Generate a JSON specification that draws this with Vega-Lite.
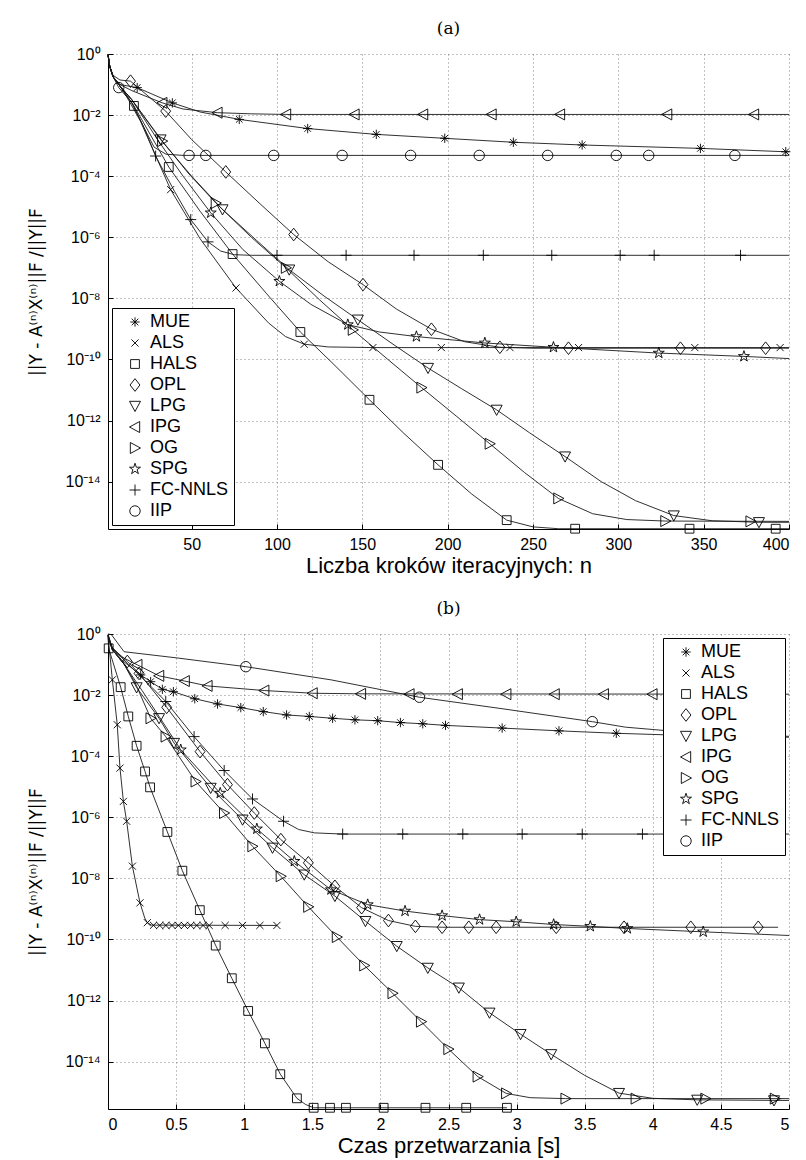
{
"$schema":"https://vega.github.io/schema/vega-lite/v6.json",
"padding":{"left":27,"top":20,"right":8,"bottom":2},
"config":{
 "font":"Liberation Sans",
 "view":{"stroke":null},
 "axis":{"domainColor":"#000","domainWidth":1,"tickColor":"#000","tickSize":-5,"tickWidth":1,"gridColor":"#666","gridDash":[1,3],"gridWidth":0.8,"gridOpacity":1,"labelFont":"Liberation Sans","labelFontSize":16,"labelColor":"#000","titleFont":"Liberation Sans","titleFontSize":18,"titleFontWeight":"normal","titleColor":"#000"},
 "axisX":{"labelPadding":12,"titlePadding":3,"titleFontSize":22},
 "axisY":{"labelPadding":13,"titlePadding":20,"titleFont":"DejaVu Sans","titleFontSize":17},
 "legend":{"labelFont":"Liberation Sans","labelFontSize":18,"labelColor":"#000","strokeColor":"#000","strokeWidth":1,"fillColor":"#fff","padding":5,"rowPadding":3,"symbolOffset":9,"labelOffset":6,"symbolSize":121,"symbolStrokeWidth":0.9,"symbolStrokeColor":"#000","symbolFillColor":"transparent","offset":4},
 "title":{"font":"DejaVu Serif","fontSize":17,"fontWeight":"normal","color":"#000","baseline":"bottom","offset":8}
},
"datasets":{
"la":[
{"s":"MUE","x":1,"y":0.955},{"s":"MUE","x":2,"y":0.398},{"s":"MUE","x":4,"y":0.178},{"s":"MUE","x":8,"y":0.1},{"s":"MUE","x":18.1,"y":0.0794},{"s":"MUE","x":38.7,"y":0.0251},{"s":"MUE","x":55,"y":0.0126},{"s":"MUE","x":77.9,"y":0.00724},{"s":"MUE","x":118,"y":0.00363},{"s":"MUE","x":158,"y":0.00234},{"s":"MUE","x":198,"y":0.00174},{"s":"MUE","x":238.5,"y":0.00129},{"s":"MUE","x":279,"y":0.00105},{"s":"MUE","x":348,"y":0.000813},{"s":"MUE","x":398,"y":0.000631},{"s":"MUE","x":400,"y":0.000631},
{"s":"IPG","x":1,"y":0.955},{"s":"IPG","x":2,"y":0.398},{"s":"IPG","x":4,"y":0.178},{"s":"IPG","x":8,"y":0.1},{"s":"IPG","x":15,"y":0.0631},{"s":"IPG","x":32.8,"y":0.0251},{"s":"IPG","x":45,"y":0.0158},{"s":"IPG","x":65,"y":0.012},{"s":"IPG","x":85,"y":0.011},{"s":"IPG","x":105,"y":0.0105},{"s":"IPG","x":400,"y":0.0105},
{"s":"IIP","x":1,"y":0.955},{"s":"IIP","x":2,"y":0.398},{"s":"IIP","x":4,"y":0.178},{"s":"IIP","x":7.3,"y":0.0794},{"s":"IIP","x":15,"y":0.0251},{"s":"IIP","x":22,"y":0.00398},{"s":"IIP","x":28,"y":0.000891},{"s":"IIP","x":35,"y":0.000525},{"s":"IIP","x":45,"y":0.000479},{"s":"IIP","x":400,"y":0.000479},
{"s":"FC-NNLS","x":1,"y":0.955},{"s":"FC-NNLS","x":2,"y":0.398},{"s":"FC-NNLS","x":4,"y":0.178},{"s":"FC-NNLS","x":8,"y":0.0891},{"s":"FC-NNLS","x":15,"y":0.0251},{"s":"FC-NNLS","x":22,"y":0.00398},{"s":"FC-NNLS","x":28.9,"y":0.000457},{"s":"FC-NNLS","x":40,"y":0.0000316},{"s":"FC-NNLS","x":49.5,"y":0.0000038},{"s":"FC-NNLS","x":59.6,"y":7.08e-7},{"s":"FC-NNLS","x":67,"y":3.55e-7},{"s":"FC-NNLS","x":75,"y":2.69e-7},{"s":"FC-NNLS","x":85,"y":2.57e-7},{"s":"FC-NNLS","x":400,"y":2.57e-7},
{"s":"HALS","x":1,"y":0.955},{"s":"HALS","x":2,"y":0.398},{"s":"HALS","x":4,"y":0.178},{"s":"HALS","x":8,"y":0.0891},{"s":"HALS","x":16.2,"y":0.02},{"s":"HALS","x":36.6,"y":0.0002},{"s":"HALS","x":55,"y":7.08e-6},{"s":"HALS","x":74,"y":2.82e-7},{"s":"HALS","x":94,"y":1.41e-8},{"s":"HALS","x":113.7,"y":7.94e-10},{"s":"HALS","x":134,"y":6.31e-11},{"s":"HALS","x":154.2,"y":4.79e-12},{"s":"HALS","x":174,"y":3.98e-13},{"s":"HALS","x":194.4,"y":3.55e-14},{"s":"HALS","x":214,"y":3.98e-15},{"s":"HALS","x":234.6,"y":5.5e-16},{"s":"HALS","x":250,"y":3.31e-16},{"s":"HALS","x":265,"y":2.88e-16},{"s":"HALS","x":400,"y":2.88e-16},
{"s":"ALS","x":1,"y":0.955},{"s":"ALS","x":2,"y":0.398},{"s":"ALS","x":4,"y":0.178},{"s":"ALS","x":8,"y":0.0891},{"s":"ALS","x":12,"y":0.0398},{"s":"ALS","x":20,"y":0.00631},{"s":"ALS","x":37.7,"y":0.0000363},{"s":"ALS","x":55,"y":8.91e-7},{"s":"ALS","x":76,"y":2.19e-8},{"s":"ALS","x":95,"y":1.58e-9},{"s":"ALS","x":105,"y":5.62e-10},{"s":"ALS","x":116,"y":3.16e-10},{"s":"ALS","x":130,"y":2.57e-10},{"s":"ALS","x":156,"y":2.45e-10},{"s":"ALS","x":400,"y":2.45e-10},
{"s":"OPL","x":1,"y":0.955},{"s":"OPL","x":2,"y":0.398},{"s":"OPL","x":4,"y":0.2},{"s":"OPL","x":8,"y":0.141},{"s":"OPL","x":14.2,"y":0.129},{"s":"OPL","x":25,"y":0.0398},{"s":"OPL","x":34.8,"y":0.0135},{"s":"OPL","x":50,"y":0.00158},{"s":"OPL","x":70,"y":0.000138},{"s":"OPL","x":90,"y":0.0000126},{"s":"OPL","x":109.8,"y":1.23e-6},{"s":"OPL","x":130,"y":1.58e-7},{"s":"OPL","x":150.4,"y":2.82e-8},{"s":"OPL","x":170,"y":4.47e-9},{"s":"OPL","x":190.5,"y":9.77e-10},{"s":"OPL","x":210,"y":3.8e-10},{"s":"OPL","x":230.6,"y":2.51e-10},{"s":"OPL","x":250,"y":2.34e-10},{"s":"OPL","x":400,"y":2.34e-10},
{"s":"LPG","x":1,"y":0.955},{"s":"LPG","x":2,"y":0.398},{"s":"LPG","x":4,"y":0.178},{"s":"LPG","x":8,"y":0.0891},{"s":"LPG","x":15,"y":0.0316},{"s":"LPG","x":31.8,"y":0.00158},{"s":"LPG","x":50,"y":0.0001},{"s":"LPG","x":68.1,"y":8.13e-6},{"s":"LPG","x":88,"y":7.94e-7},{"s":"LPG","x":107.2,"y":8.71e-8},{"s":"LPG","x":127,"y":1.26e-8},{"s":"LPG","x":147.4,"y":2e-9},{"s":"LPG","x":168,"y":3.16e-10},{"s":"LPG","x":188.5,"y":5.25e-11},{"s":"LPG","x":208,"y":1.12e-11},{"s":"LPG","x":228.7,"y":2.24e-12},{"s":"LPG","x":248,"y":3.98e-13},{"s":"LPG","x":268.8,"y":6.61e-14},{"s":"LPG","x":290,"y":1e-14},{"s":"LPG","x":310,"y":2.4e-15},{"s":"LPG","x":332.5,"y":7.76e-16},{"s":"LPG","x":355,"y":5.25e-16},{"s":"LPG","x":382.4,"y":4.68e-16},{"s":"LPG","x":400,"y":4.68e-16},
{"s":"OG","x":1,"y":0.955},{"s":"OG","x":2,"y":0.398},{"s":"OG","x":4,"y":0.178},{"s":"OG","x":8,"y":0.0891},{"s":"OG","x":15,"y":0.0316},{"s":"OG","x":32.8,"y":0.00141},{"s":"OG","x":48,"y":0.000126},{"s":"OG","x":64.2,"y":0.0000132},{"s":"OG","x":85,"y":1e-6},{"s":"OG","x":105.3,"y":1e-7},{"s":"OG","x":125,"y":8.91e-9},{"s":"OG","x":144.5,"y":9.33e-10},{"s":"OG","x":165,"y":1e-10},{"s":"OG","x":184.7,"y":1.2e-11},{"s":"OG","x":205,"y":1.41e-12},{"s":"OG","x":224.7,"y":1.74e-13},{"s":"OG","x":245,"y":2e-14},{"s":"OG","x":264.9,"y":2.82e-15},{"s":"OG","x":285,"y":8.91e-16},{"s":"OG","x":305,"y":5.75e-16},{"s":"OG","x":327.6,"y":5.13e-16},{"s":"OG","x":400,"y":5.01e-16},
{"s":"SPG","x":1,"y":0.955},{"s":"SPG","x":2,"y":0.398},{"s":"SPG","x":4,"y":0.178},{"s":"SPG","x":8,"y":0.0891},{"s":"SPG","x":15,"y":0.0316},{"s":"SPG","x":30,"y":0.00158},{"s":"SPG","x":45,"y":0.0001},{"s":"SPG","x":61.2,"y":6.31e-6},{"s":"SPG","x":80,"y":3.98e-7},{"s":"SPG","x":101.4,"y":3.63e-8},{"s":"SPG","x":120,"y":6.31e-9},{"s":"SPG","x":141.5,"y":1.38e-9},{"s":"SPG","x":160,"y":7.94e-10},{"s":"SPG","x":181.7,"y":5.62e-10},{"s":"SPG","x":221.8,"y":3.47e-10},{"s":"SPG","x":262,"y":2.51e-10},{"s":"SPG","x":323.7,"y":1.62e-10},{"s":"SPG","x":373.6,"y":1.26e-10},{"s":"SPG","x":400,"y":1.07e-10}
],
"ma":[
{"s":"MUE","x":18.1,"y":0.0794},{"s":"MUE","x":38.7,"y":0.0251},{"s":"MUE","x":77.9,"y":0.00724},{"s":"MUE","x":118,"y":0.00363},{"s":"MUE","x":158.2,"y":0.00234},{"s":"MUE","x":198.3,"y":0.00174},{"s":"MUE","x":238.5,"y":0.00129},{"s":"MUE","x":278.8,"y":0.00105},{"s":"MUE","x":348.1,"y":0.000813},{"s":"MUE","x":398.1,"y":0.000631},
{"s":"ALS","x":37.7,"y":0.0000363},{"s":"ALS","x":76,"y":2.19e-8},{"s":"ALS","x":116,"y":3.16e-10},{"s":"ALS","x":156.2,"y":2.45e-10},{"s":"ALS","x":196.3,"y":2.45e-10},{"s":"ALS","x":236.5,"y":2.45e-10},{"s":"ALS","x":276.7,"y":2.45e-10},{"s":"ALS","x":344.8,"y":2.45e-10},{"s":"ALS","x":394.8,"y":2.45e-10},
{"s":"HALS","x":16.2,"y":0.02},{"s":"HALS","x":36.6,"y":0.0002},{"s":"HALS","x":74,"y":2.82e-7},{"s":"HALS","x":113.7,"y":7.94e-10},{"s":"HALS","x":154.2,"y":4.79e-12},{"s":"HALS","x":194.4,"y":3.55e-14},{"s":"HALS","x":234.6,"y":5.5e-16},{"s":"HALS","x":274.7,"y":2.88e-16},{"s":"HALS","x":341.7,"y":2.88e-16},{"s":"HALS","x":392.2,"y":2.88e-16},
{"s":"OPL","x":14.2,"y":0.129},{"s":"OPL","x":34.8,"y":0.0135},{"s":"OPL","x":70,"y":0.000138},{"s":"OPL","x":109.8,"y":1.23e-6},{"s":"OPL","x":150.4,"y":2.82e-8},{"s":"OPL","x":190.5,"y":9.77e-10},{"s":"OPL","x":230.6,"y":2.51e-10},{"s":"OPL","x":270.8,"y":2.34e-10},{"s":"OPL","x":336.4,"y":2.34e-10},{"s":"OPL","x":386.3,"y":2.34e-10},
{"s":"LPG","x":31.8,"y":0.00158},{"s":"LPG","x":68.1,"y":8.13e-6},{"s":"LPG","x":107.2,"y":8.71e-8},{"s":"LPG","x":147.4,"y":2e-9},{"s":"LPG","x":188.5,"y":5.25e-11},{"s":"LPG","x":228.7,"y":2.24e-12},{"s":"LPG","x":268.8,"y":6.61e-14},{"s":"LPG","x":332.5,"y":7.76e-16},{"s":"LPG","x":382.4,"y":4.68e-16},
{"s":"IPG","x":32.8,"y":0.0251},{"s":"IPG","x":65.1,"y":0.012},{"s":"IPG","x":105.3,"y":0.0105},{"s":"IPG","x":145.4,"y":0.0105},{"s":"IPG","x":185.6,"y":0.0105},{"s":"IPG","x":225.7,"y":0.0105},{"s":"IPG","x":265.8,"y":0.0105},{"s":"IPG","x":328.6,"y":0.0105},{"s":"IPG","x":379.5,"y":0.0105},
{"s":"OG","x":32.8,"y":0.00141},{"s":"OG","x":64.2,"y":0.0000132},{"s":"OG","x":105.3,"y":1e-7},{"s":"OG","x":144.5,"y":9.33e-10},{"s":"OG","x":184.7,"y":1.2e-11},{"s":"OG","x":224.7,"y":1.74e-13},{"s":"OG","x":264.9,"y":2.82e-15},{"s":"OG","x":327.6,"y":5.13e-16},{"s":"OG","x":377.5,"y":5.01e-16},
{"s":"SPG","x":61.2,"y":6.31e-6},{"s":"SPG","x":101.4,"y":3.63e-8},{"s":"SPG","x":141.5,"y":1.38e-9},{"s":"SPG","x":181.7,"y":5.62e-10},{"s":"SPG","x":221.8,"y":3.47e-10},{"s":"SPG","x":262,"y":2.51e-10},{"s":"SPG","x":323.7,"y":1.62e-10},{"s":"SPG","x":373.6,"y":1.26e-10},
{"s":"FC-NNLS","x":28.9,"y":0.000457},{"s":"FC-NNLS","x":49.5,"y":0.0000038},{"s":"FC-NNLS","x":59.6,"y":7.08e-7},{"s":"FC-NNLS","x":100,"y":2.57e-7},{"s":"FC-NNLS","x":140.5,"y":2.57e-7},{"s":"FC-NNLS","x":180.3,"y":2.57e-7},{"s":"FC-NNLS","x":220.9,"y":2.57e-7},{"s":"FC-NNLS","x":261,"y":2.57e-7},{"s":"FC-NNLS","x":301.1,"y":2.57e-7},{"s":"FC-NNLS","x":321,"y":2.57e-7},{"s":"FC-NNLS","x":371.6,"y":2.57e-7},
{"s":"IIP","x":7.3,"y":0.0794},{"s":"IIP","x":48.5,"y":0.000479},{"s":"IIP","x":58.3,"y":0.000479},{"s":"IIP","x":98.1,"y":0.000479},{"s":"IIP","x":138.2,"y":0.000479},{"s":"IIP","x":178.3,"y":0.000479},{"s":"IIP","x":218.5,"y":0.000479},{"s":"IIP","x":258.6,"y":0.000479},{"s":"IIP","x":298.8,"y":0.000479},{"s":"IIP","x":317.8,"y":0.000479},{"s":"IIP","x":368.3,"y":0.000479}
],
"lb":[
{"s":"MUE","x":0,"y":1},{"s":"MUE","x":0.03,"y":0.355},{"s":"MUE","x":0.1,"y":0.141},{"s":"MUE","x":0.24,"y":0.0457},{"s":"MUE","x":0.313,"y":0.0275},{"s":"MUE","x":0.399,"y":0.0155},{"s":"MUE","x":0.48,"y":0.0129},{"s":"MUE","x":0.637,"y":0.00759},{"s":"MUE","x":0.804,"y":0.00513},{"s":"MUE","x":0.975,"y":0.00389},{"s":"MUE","x":1.14,"y":0.00288},{"s":"MUE","x":1.311,"y":0.00224},{"s":"MUE","x":1.478,"y":0.002},{"s":"MUE","x":1.649,"y":0.00174},{"s":"MUE","x":1.813,"y":0.00155},{"s":"MUE","x":1.98,"y":0.00145},{"s":"MUE","x":2.147,"y":0.00126},{"s":"MUE","x":2.311,"y":0.00115},{"s":"MUE","x":2.478,"y":0.00102},{"s":"MUE","x":2.894,"y":0.000832},{"s":"MUE","x":3.311,"y":0.000676},{"s":"MUE","x":3.732,"y":0.000562},{"s":"MUE","x":4.088,"y":0.000501},{"s":"MUE","x":5,"y":0.000417},
{"s":"IIP","x":0,"y":1},{"s":"IIP","x":0.025,"y":0.955},{"s":"IIP","x":0.118,"y":0.263},{"s":"IIP","x":0.5,"y":0.166},{"s":"IIP","x":1.012,"y":0.0851},{"s":"IIP","x":1.637,"y":0.0316},{"s":"IIP","x":2.287,"y":0.00851},{"s":"IIP","x":2.9,"y":0.00355},{"s":"IIP","x":3.556,"y":0.00135},{"s":"IIP","x":3.8,"y":0.000891},{"s":"IIP","x":4.088,"y":0.000692},{"s":"IIP","x":4.5,"y":0.000525},{"s":"IIP","x":5,"y":0.000447},
{"s":"IPG","x":0,"y":0.891},{"s":"IPG","x":0.03,"y":0.355},{"s":"IPG","x":0.1,"y":0.178},{"s":"IPG","x":0.215,"y":0.0977},{"s":"IPG","x":0.375,"y":0.0427},{"s":"IPG","x":0.563,"y":0.0288},{"s":"IPG","x":0.73,"y":0.02},{"s":"IPG","x":1.147,"y":0.0141},{"s":"IPG","x":1.502,"y":0.0115},{"s":"IPG","x":1.857,"y":0.011},{"s":"IPG","x":5,"y":0.0107},
{"s":"ALS","x":0,"y":0.891},{"s":"ALS","x":0.01,"y":0.316},{"s":"ALS","x":0.032,"y":0.0316},{"s":"ALS","x":0.068,"y":0.00107},{"s":"ALS","x":0.088,"y":0.0000407},{"s":"ALS","x":0.113,"y":3.31e-6},{"s":"ALS","x":0.137,"y":7.41e-7},{"s":"ALS","x":0.179,"y":2.51e-8},{"s":"ALS","x":0.235,"y":1.58e-9},{"s":"ALS","x":0.27,"y":5.01e-10},{"s":"ALS","x":0.289,"y":3.55e-10},{"s":"ALS","x":0.32,"y":2.95e-10},{"s":"ALS","x":1.24,"y":2.88e-10},
{"s":"HALS","x":0,"y":0.794},{"s":"HALS","x":0.005,"y":0.339},{"s":"HALS","x":0.093,"y":0.0182},{"s":"HALS","x":0.149,"y":0.002},{"s":"HALS","x":0.21,"y":0.000219},{"s":"HALS","x":0.272,"y":0.0000316},{"s":"HALS","x":0.309,"y":9.55e-6},{"s":"HALS","x":0.436,"y":3.31e-7},{"s":"HALS","x":0.546,"y":1.78e-8},{"s":"HALS","x":0.674,"y":9.12e-10},{"s":"HALS","x":0.791,"y":6.31e-11},{"s":"HALS","x":0.909,"y":5.37e-12},{"s":"HALS","x":1.029,"y":4.57e-13},{"s":"HALS","x":1.152,"y":3.98e-14},{"s":"HALS","x":1.265,"y":3.89e-15},{"s":"HALS","x":1.387,"y":6.31e-16},{"s":"HALS","x":1.45,"y":3.98e-16},{"s":"HALS","x":1.51,"y":3.09e-16},{"s":"HALS","x":2.929,"y":3.09e-16},
{"s":"OPL","x":0,"y":0.891},{"s":"OPL","x":0.03,"y":0.355},{"s":"OPL","x":0.142,"y":0.126},{"s":"OPL","x":0.228,"y":0.0513},{"s":"OPL","x":0.431,"y":0.00398},{"s":"OPL","x":0.676,"y":0.000141},{"s":"OPL","x":0.877,"y":0.0000117},{"s":"OPL","x":1.074,"y":1.38e-6},{"s":"OPL","x":1.269,"y":1.86e-7},{"s":"OPL","x":1.471,"y":3.24e-8},{"s":"OPL","x":1.666,"y":5.5e-9},{"s":"OPL","x":1.862,"y":1.1e-9},{"s":"OPL","x":2.059,"y":4.17e-10},{"s":"OPL","x":2.257,"y":2.69e-10},{"s":"OPL","x":2.458,"y":2.51e-10},{"s":"OPL","x":4.92,"y":2.51e-10},
{"s":"LPG","x":0,"y":0.891},{"s":"LPG","x":0.03,"y":0.316},{"s":"LPG","x":0.12,"y":0.1},{"s":"LPG","x":0.21,"y":0.0178},{"s":"LPG","x":0.375,"y":0.00174},{"s":"LPG","x":0.485,"y":0.000269},{"s":"LPG","x":0.754,"y":9.12e-6},{"s":"LPG","x":0.988,"y":8.32e-7},{"s":"LPG","x":1.208,"y":1e-7},{"s":"LPG","x":1.441,"y":1.32e-8},{"s":"LPG","x":1.666,"y":2.63e-9},{"s":"LPG","x":1.89,"y":3.98e-10},{"s":"LPG","x":2.12,"y":6.03e-11},{"s":"LPG","x":2.348,"y":1.17e-11},{"s":"LPG","x":2.576,"y":2.63e-12},{"s":"LPG","x":2.801,"y":3.98e-13},{"s":"LPG","x":3.029,"y":7.94e-14},{"s":"LPG","x":3.254,"y":1.74e-14},{"s":"LPG","x":3.5,"y":3.55e-15},{"s":"LPG","x":3.752,"y":9.33e-16},{"s":"LPG","x":4.0,"y":6.31e-16},{"s":"LPG","x":4.326,"y":5.62e-16},{"s":"LPG","x":5,"y":5.37e-16},
{"s":"OG","x":0,"y":0.891},{"s":"OG","x":0.03,"y":0.316},{"s":"OG","x":0.12,"y":0.1},{"s":"OG","x":0.2,"y":0.0251},{"s":"OG","x":0.313,"y":0.00174},{"s":"OG","x":0.424,"y":0.000437},{"s":"OG","x":0.644,"y":0.0000148},{"s":"OG","x":0.853,"y":1.38e-6},{"s":"OG","x":1.061,"y":1.12e-7},{"s":"OG","x":1.269,"y":1.17e-8},{"s":"OG","x":1.471,"y":1.17e-9},{"s":"OG","x":1.681,"y":1.2e-10},{"s":"OG","x":1.882,"y":1.41e-11},{"s":"OG","x":2.09,"y":1.74e-12},{"s":"OG","x":2.299,"y":2.04e-13},{"s":"OG","x":2.5,"y":2.57e-14},{"s":"OG","x":2.715,"y":3.24e-15},{"s":"OG","x":2.924,"y":9.12e-16},{"s":"OG","x":3.1,"y":6.61e-16},{"s":"OG","x":3.36,"y":6.17e-16},{"s":"OG","x":5,"y":6.17e-16},
{"s":"SPG","x":0,"y":0.891},{"s":"SPG","x":0.03,"y":0.316},{"s":"SPG","x":0.12,"y":0.1},{"s":"SPG","x":0.25,"y":0.0141},{"s":"SPG","x":0.375,"y":0.002},{"s":"SPG","x":0.534,"y":0.000162},{"s":"SPG","x":0.824,"y":6.17e-6},{"s":"SPG","x":1.093,"y":4.17e-7},{"s":"SPG","x":1.368,"y":3.63e-8},{"s":"SPG","x":1.637,"y":4.27e-9},{"s":"SPG","x":1.907,"y":1.38e-9},{"s":"SPG","x":2.181,"y":8.51e-10},{"s":"SPG","x":2.453,"y":6.03e-10},{"s":"SPG","x":2.728,"y":4.47e-10},{"s":"SPG","x":2.997,"y":3.8e-10},{"s":"SPG","x":3.272,"y":3.09e-10},{"s":"SPG","x":3.541,"y":2.69e-10},{"s":"SPG","x":3.813,"y":2.29e-10},{"s":"SPG","x":4.37,"y":1.78e-10},{"s":"SPG","x":5,"y":1.35e-10},
{"s":"FC-NNLS","x":0,"y":0.891},{"s":"FC-NNLS","x":0.03,"y":0.355},{"s":"FC-NNLS","x":0.15,"y":0.1},{"s":"FC-NNLS","x":0.3,"y":0.0224},{"s":"FC-NNLS","x":0.424,"y":0.00617},{"s":"FC-NNLS","x":0.632,"y":0.000437},{"s":"FC-NNLS","x":0.853,"y":0.0000339},{"s":"FC-NNLS","x":1.061,"y":3.98e-6},{"s":"FC-NNLS","x":1.289,"y":7.41e-7},{"s":"FC-NNLS","x":1.4,"y":3.98e-7},{"s":"FC-NNLS","x":1.515,"y":3.09e-7},{"s":"FC-NNLS","x":1.723,"y":2.82e-7},{"s":"FC-NNLS","x":5,"y":2.82e-7}
],
"mb":[
{"s":"MUE","x":0.24,"y":0.0457},{"s":"MUE","x":0.313,"y":0.0275},{"s":"MUE","x":0.399,"y":0.0155},{"s":"MUE","x":0.48,"y":0.0129},{"s":"MUE","x":0.637,"y":0.00759},{"s":"MUE","x":0.804,"y":0.00513},{"s":"MUE","x":0.975,"y":0.00389},{"s":"MUE","x":1.14,"y":0.00288},{"s":"MUE","x":1.311,"y":0.00224},{"s":"MUE","x":1.478,"y":0.002},{"s":"MUE","x":1.649,"y":0.00174},{"s":"MUE","x":1.813,"y":0.00155},{"s":"MUE","x":1.98,"y":0.00145},{"s":"MUE","x":2.147,"y":0.00126},{"s":"MUE","x":2.311,"y":0.00115},{"s":"MUE","x":2.478,"y":0.00102},{"s":"MUE","x":2.894,"y":0.000832},{"s":"MUE","x":3.311,"y":0.000676},{"s":"MUE","x":3.732,"y":0.000562},
{"s":"ALS","x":0.032,"y":0.0316},{"s":"ALS","x":0.068,"y":0.00107},{"s":"ALS","x":0.088,"y":0.0000407},{"s":"ALS","x":0.113,"y":3.31e-6},{"s":"ALS","x":0.137,"y":7.41e-7},{"s":"ALS","x":0.179,"y":2.51e-8},{"s":"ALS","x":0.235,"y":1.58e-9},{"s":"ALS","x":0.289,"y":3.55e-10},{"s":"ALS","x":0.334,"y":2.9e-10},{"s":"ALS","x":0.38,"y":2.88e-10},{"s":"ALS","x":0.425,"y":2.88e-10},{"s":"ALS","x":0.47,"y":2.88e-10},{"s":"ALS","x":0.516,"y":2.88e-10},{"s":"ALS","x":0.561,"y":2.88e-10},{"s":"ALS","x":0.607,"y":2.88e-10},{"s":"ALS","x":0.652,"y":2.88e-10},{"s":"ALS","x":0.698,"y":2.88e-10},{"s":"ALS","x":0.743,"y":2.88e-10},{"s":"ALS","x":0.86,"y":2.88e-10},{"s":"ALS","x":0.988,"y":2.88e-10},{"s":"ALS","x":1.115,"y":2.88e-10},{"s":"ALS","x":1.24,"y":2.88e-10},
{"s":"HALS","x":0.005,"y":0.339},{"s":"HALS","x":0.093,"y":0.0182},{"s":"HALS","x":0.149,"y":0.002},{"s":"HALS","x":0.21,"y":0.000219},{"s":"HALS","x":0.272,"y":0.0000316},{"s":"HALS","x":0.309,"y":9.55e-6},{"s":"HALS","x":0.436,"y":3.31e-7},{"s":"HALS","x":0.546,"y":1.78e-8},{"s":"HALS","x":0.674,"y":9.12e-10},{"s":"HALS","x":0.791,"y":6.31e-11},{"s":"HALS","x":0.909,"y":5.37e-12},{"s":"HALS","x":1.029,"y":4.57e-13},{"s":"HALS","x":1.152,"y":3.98e-14},{"s":"HALS","x":1.265,"y":3.89e-15},{"s":"HALS","x":1.387,"y":6.31e-16},{"s":"HALS","x":1.51,"y":3.09e-16},{"s":"HALS","x":1.63,"y":3.09e-16},{"s":"HALS","x":1.747,"y":3.09e-16},{"s":"HALS","x":2.024,"y":3.09e-16},{"s":"HALS","x":2.331,"y":3.09e-16},{"s":"HALS","x":2.63,"y":3.09e-16},{"s":"HALS","x":2.929,"y":3.09e-16},
{"s":"OPL","x":0.142,"y":0.126},{"s":"OPL","x":0.228,"y":0.0513},{"s":"OPL","x":0.431,"y":0.00398},{"s":"OPL","x":0.676,"y":0.000141},{"s":"OPL","x":0.877,"y":0.0000117},{"s":"OPL","x":1.074,"y":1.38e-6},{"s":"OPL","x":1.269,"y":1.86e-7},{"s":"OPL","x":1.471,"y":3.24e-8},{"s":"OPL","x":1.666,"y":5.5e-9},{"s":"OPL","x":1.862,"y":1.1e-9},{"s":"OPL","x":2.059,"y":4.17e-10},{"s":"OPL","x":2.257,"y":2.69e-10},{"s":"OPL","x":2.453,"y":2.51e-10},{"s":"OPL","x":2.649,"y":2.51e-10},{"s":"OPL","x":2.85,"y":2.51e-10},{"s":"OPL","x":3.291,"y":2.51e-10},{"s":"OPL","x":3.789,"y":2.51e-10},{"s":"OPL","x":4.279,"y":2.51e-10},{"s":"OPL","x":4.774,"y":2.51e-10},
{"s":"LPG","x":0.21,"y":0.0178},{"s":"LPG","x":0.375,"y":0.00174},{"s":"LPG","x":0.485,"y":0.000269},{"s":"LPG","x":0.754,"y":9.12e-6},{"s":"LPG","x":0.988,"y":8.32e-7},{"s":"LPG","x":1.208,"y":1e-7},{"s":"LPG","x":1.441,"y":1.32e-8},{"s":"LPG","x":1.666,"y":2.63e-9},{"s":"LPG","x":1.89,"y":3.98e-10},{"s":"LPG","x":2.12,"y":6.03e-11},{"s":"LPG","x":2.348,"y":1.17e-11},{"s":"LPG","x":2.576,"y":2.63e-12},{"s":"LPG","x":2.801,"y":3.98e-13},{"s":"LPG","x":3.029,"y":7.94e-14},{"s":"LPG","x":3.254,"y":1.74e-14},{"s":"LPG","x":3.752,"y":9.33e-16},{"s":"LPG","x":4.326,"y":5.62e-16},{"s":"LPG","x":4.89,"y":5.37e-16},
{"s":"IPG","x":0.215,"y":0.0977},{"s":"IPG","x":0.375,"y":0.0427},{"s":"IPG","x":0.563,"y":0.0288},{"s":"IPG","x":0.73,"y":0.02},{"s":"IPG","x":1.147,"y":0.0141},{"s":"IPG","x":1.502,"y":0.0115},{"s":"IPG","x":1.857,"y":0.011},{"s":"IPG","x":2.213,"y":0.0107},{"s":"IPG","x":2.568,"y":0.0107},{"s":"IPG","x":2.924,"y":0.0107},{"s":"IPG","x":3.279,"y":0.0107},{"s":"IPG","x":3.64,"y":0.0107},{"s":"IPG","x":3.997,"y":0.0107},
{"s":"OG","x":0.313,"y":0.00174},{"s":"OG","x":0.424,"y":0.000437},{"s":"OG","x":0.644,"y":0.0000148},{"s":"OG","x":0.853,"y":1.38e-6},{"s":"OG","x":1.061,"y":1.12e-7},{"s":"OG","x":1.269,"y":1.17e-8},{"s":"OG","x":1.471,"y":1.17e-9},{"s":"OG","x":1.681,"y":1.2e-10},{"s":"OG","x":1.882,"y":1.41e-11},{"s":"OG","x":2.09,"y":1.74e-12},{"s":"OG","x":2.299,"y":2.04e-13},{"s":"OG","x":2.5,"y":2.57e-14},{"s":"OG","x":2.715,"y":3.24e-15},{"s":"OG","x":2.924,"y":9.12e-16},{"s":"OG","x":3.36,"y":6.17e-16},{"s":"OG","x":3.875,"y":6.17e-16},{"s":"OG","x":4.387,"y":6.17e-16},{"s":"OG","x":4.897,"y":6.17e-16},
{"s":"SPG","x":0.534,"y":0.000162},{"s":"SPG","x":0.824,"y":6.17e-6},{"s":"SPG","x":1.093,"y":4.17e-7},{"s":"SPG","x":1.368,"y":3.63e-8},{"s":"SPG","x":1.637,"y":4.27e-9},{"s":"SPG","x":1.907,"y":1.38e-9},{"s":"SPG","x":2.181,"y":8.51e-10},{"s":"SPG","x":2.453,"y":6.03e-10},{"s":"SPG","x":2.728,"y":4.47e-10},{"s":"SPG","x":2.997,"y":3.8e-10},{"s":"SPG","x":3.272,"y":3.09e-10},{"s":"SPG","x":3.541,"y":2.69e-10},{"s":"SPG","x":3.813,"y":2.29e-10},{"s":"SPG","x":4.37,"y":1.78e-10},
{"s":"FC-NNLS","x":0.424,"y":0.00617},{"s":"FC-NNLS","x":0.632,"y":0.000437},{"s":"FC-NNLS","x":0.853,"y":0.0000339},{"s":"FC-NNLS","x":1.061,"y":3.98e-6},{"s":"FC-NNLS","x":1.289,"y":7.41e-7},{"s":"FC-NNLS","x":1.723,"y":2.82e-7},{"s":"FC-NNLS","x":2.164,"y":2.82e-7},{"s":"FC-NNLS","x":2.605,"y":2.82e-7},{"s":"FC-NNLS","x":3.041,"y":2.82e-7},{"s":"FC-NNLS","x":3.482,"y":2.82e-7},{"s":"FC-NNLS","x":3.924,"y":2.82e-7},
{"s":"IIP","x":1.012,"y":0.0851},{"s":"IIP","x":2.287,"y":0.00851},{"s":"IIP","x":3.556,"y":0.00135}
]
},
"vconcat":[
{
 "title":{"text":"(a)"},
 "width":681,"height":475,
 "layer":[
  {"data":{"name":"la"},"mark":{"type":"line","color":"#1a1a1a","strokeWidth":0.9},
   "encoding":{
    "x":{"field":"x","type":"quantitative","scale":{"domain":[1,400],"nice":false,"zero":false},"axis":{"title":"Liczba kroków iteracyjnych: n","values":[50,100,150,200,250,300,350,400],"format":"d"}},
    "y":{"field":"y","type":"quantitative","scale":{"type":"log","domain":[2.82e-16,1],"nice":false},"axis":{"title":"||Y - A⁽ⁿ⁾X⁽ⁿ⁾||F /||Y||F","values":[1,1e-2,1e-4,1e-6,1e-8,1e-10,1e-12,1e-14],"labelExpr":"['10⁰','10⁻²','10⁻⁴','10⁻⁶','10⁻⁸','10⁻¹⁰','10⁻¹²','10⁻¹⁴'][round(-log(datum.value)/LN10/2)]"}},
    "detail":{"field":"s","type":"nominal"}}},
  {"data":{"name":"ma"},"mark":{"type":"point","filled":false,"stroke":"#000","strokeWidth":0.9,"size":121,"opacity":1},
   "encoding":{
    "x":{"field":"x","type":"quantitative"},
    "y":{"field":"y","type":"quantitative"},
    "shape":{"field":"s","type":"nominal","scale":{"domain":["MUE","ALS","HALS","OPL","LPG","IPG","OG","SPG","FC-NNLS","IIP"],"range":["M0,-0.85L0,0.85M-0.85,0L0.85,0M-0.6,-0.6L0.6,0.6M-0.6,0.6L0.6,-0.6","M-0.65,-0.65L0.65,0.65M-0.65,0.65L0.65,-0.65","M-0.8,-0.8L0.8,-0.8L0.8,0.8L-0.8,0.8Z","M0,-1.15L0.9,0L0,1.15L-0.9,0Z","M-1,-0.85L1,-0.85L0,1Z","M0.85,-1L0.85,1L-1,0Z","M-0.85,-1L-0.85,1L1,0Z","M0,-1.05L0.236,-0.324L0.999,-0.324L0.381,0.124L0.617,0.849L0,0.401L-0.617,0.849L-0.381,0.124L-0.999,-0.324L-0.236,-0.324Z","M-1,0L1,0M0,-1L0,1","M0.95,0A0.95,0.95,0,1,1,-0.95,0A0.95,0.95,0,1,1,0.95,0Z"]},"legend":{"orient":"bottom-left","title":null}}}}
 ]
},
{
 "title":{"text":"(b)"},
 "width":681,"height":475,
 "layer":[
  {"data":{"name":"lb"},"mark":{"type":"line","color":"#1a1a1a","strokeWidth":0.9},
   "encoding":{
    "x":{"field":"x","type":"quantitative","scale":{"domain":[0,5],"nice":false},"axis":{"title":"Czas przetwarzania [s]","values":[0,0.5,1,1.5,2,2.5,3,3.5,4,4.5,5],"format":"~g"}},
    "y":{"field":"y","type":"quantitative","scale":{"type":"log","domain":[2.82e-16,1],"nice":false},"axis":{"title":"||Y - A⁽ⁿ⁾X⁽ⁿ⁾||F /||Y||F","values":[1,1e-2,1e-4,1e-6,1e-8,1e-10,1e-12,1e-14],"labelExpr":"['10⁰','10⁻²','10⁻⁴','10⁻⁶','10⁻⁸','10⁻¹⁰','10⁻¹²','10⁻¹⁴'][round(-log(datum.value)/LN10/2)]"}},
    "detail":{"field":"s","type":"nominal"}}},
  {"data":{"name":"mb"},"mark":{"type":"point","filled":false,"stroke":"#000","strokeWidth":0.9,"size":121,"opacity":1},
   "encoding":{
    "x":{"field":"x","type":"quantitative"},
    "y":{"field":"y","type":"quantitative"},
    "shape":{"field":"s","type":"nominal","scale":{"domain":["MUE","ALS","HALS","OPL","LPG","IPG","OG","SPG","FC-NNLS","IIP"],"range":["M0,-0.85L0,0.85M-0.85,0L0.85,0M-0.6,-0.6L0.6,0.6M-0.6,0.6L0.6,-0.6","M-0.65,-0.65L0.65,0.65M-0.65,0.65L0.65,-0.65","M-0.8,-0.8L0.8,-0.8L0.8,0.8L-0.8,0.8Z","M0,-1.15L0.9,0L0,1.15L-0.9,0Z","M-1,-0.85L1,-0.85L0,1Z","M0.85,-1L0.85,1L-1,0Z","M-0.85,-1L-0.85,1L1,0Z","M0,-1.05L0.236,-0.324L0.999,-0.324L0.381,0.124L0.617,0.849L0,0.401L-0.617,0.849L-0.381,0.124L-0.999,-0.324L-0.236,-0.324Z","M-1,0L1,0M0,-1L0,1","M0.95,0A0.95,0.95,0,1,1,-0.95,0A0.95,0.95,0,1,1,0.95,0Z"]},"legend":{"orient":"top-right","title":null}}}}
 ]
}
],
"spacing":24,
"resolve":{"scale":{"x":"independent","y":"independent","shape":"independent"},"legend":{"shape":"independent"}}
}
